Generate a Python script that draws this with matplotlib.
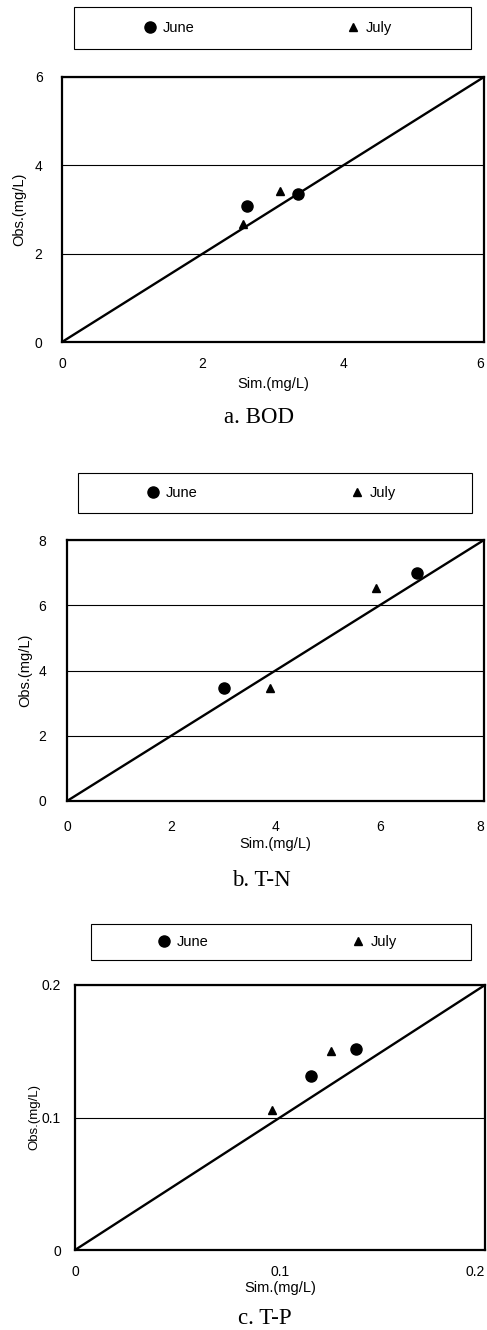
import numpy as np
import matplotlib.pyplot as plt
import matplotlib.lines as mlines
from matplotlib.patches import Rectangle

W, H = 487, 1330

# a. BOD
bod_june_sim = [2.63, 3.36]
bod_june_obs = [3.08, 3.35]
bod_july_sim = [2.57, 3.10]
bod_july_obs = [2.67, 3.42]
bod_ticks = [0, 2, 4, 6]
bod_labels = ['0', '2', '4', '6']

# b. T-N
tn_june_sim = [3.01, 6.71]
tn_june_obs = [3.46, 6.99]
tn_july_sim = [3.89, 5.93]
tn_july_obs = [3.46, 6.53]
tn_ticks = [0, 2, 4, 6, 8]
tn_labels = ['0', '2', '4', '6', '8']

# c. T-P
tp_june_sim = [0.115, 0.137]
tp_june_obs = [0.131, 0.152]
tp_july_sim = [0.096, 0.125]
tp_july_obs = [0.106, 0.150]
tp_ticks = [0, 0.1, 0.2]
tp_labels = ['0', '0.1', '0.2']

plt.rcParams['font.family'] = ['Liberation Sans', 'DejaVu Sans']

fig = plt.figure(figsize=(W / 100, H / 100), dpi=100)


def px_rect(x0, y0, x1, y1):
    # pixel box (top-left origin) -> figure fraction
    return [x0 / W, 1 - y1 / H, (x1 - x0) / W, (y1 - y0) / H]


def panel(box, ticks, labels, jx, jy, tx, ty, xpad, ypad, xlpad, ylpad, ylsize):
    ax = fig.add_axes(px_rect(*box))
    top = ticks[-1]
    ax.set_xlim(0, top)
    ax.set_ylim(0, top)
    ax.set_xticks(ticks)
    ax.set_yticks(ticks)
    ax.set_xticklabels(labels)
    ax.set_yticklabels(labels)
    ax.yaxis.grid(True, color='black', linewidth=0.8)
    ax.set_axisbelow(True)
    ax.plot([0, top], [0, top], color='black', linewidth=1.7)
    ax.plot(jx, jy, 'o', color='black', markersize=8)
    ax.plot(tx, ty, '^', color='black', markersize=6)
    for s in ax.spines.values():
        s.set_linewidth(1.6)
    ax.tick_params(axis='x', length=0, labelsize=10, pad=xpad)
    ax.tick_params(axis='y', length=0, labelsize=10, pad=ypad)
    # last x label sits on the right edge of the page
    ax.get_xticklabels()[-1].set_horizontalalignment('right')
    ax.set_xlabel('Sim.(mg/L)', fontsize=10.5, labelpad=xlpad)
    ax.set_ylabel('Obs.(mg/L)', fontsize=ylsize, labelpad=ylpad)
    return ax


def legend_box(x0, y0, x1, y1, june_x, july_x):
    fig.patches.append(Rectangle((x0 / W, 1 - y1 / H), (x1 - x0) / W, (y1 - y0) / H,
                                 transform=fig.transFigure, fill=False,
                                 edgecolor='black', linewidth=0.8))
    yc = 1 - (y0 + y1) / 2 / H
    fs = 10.5
    half = 0.5 * fs * 100 / 72
    june = mlines.Line2D([], [], marker='o', linestyle='', color='black', markersize=8)
    july = mlines.Line2D([], [], marker='^', linestyle='', color='black', markersize=6)
    for h, lab, mx in [(june, 'June', june_x), (july, 'July', july_x)]:
        fig.legend(handles=[h], labels=[lab], loc='center left',
                   bbox_to_anchor=((mx - half) / W, yc), frameon=False,
                   borderpad=0, borderaxespad=0, handlelength=1,
                   handletextpad=0.4, fontsize=fs)


def caption(text, xc, yc):
    fig.text(xc / W, 1 - yc / H, text, ha='center', va='center',
             fontsize=16.5, family=['Liberation Serif', 'DejaVu Serif'])


legend_box(74, 7, 471, 49, 150, 353)
panel((62, 77, 484, 342), bod_ticks, bod_labels,
      bod_june_sim, bod_june_obs, bod_july_sim, bod_july_obs, 11, 14, 4, 6, 10.5)
caption('a. BOD', 259, 417)

legend_box(78, 473, 472, 513, 153, 357)
panel((67, 540, 484, 801), tn_ticks, tn_labels,
      tn_june_sim, tn_june_obs, tn_july_sim, tn_july_obs, 13.5, 15, 2, 4, 10.5)
caption('b. T-N', 261, 880)

legend_box(91, 924, 471, 960, 164, 358)
panel((75, 985, 485, 1250), tp_ticks, tp_labels,
      tp_june_sim, tp_june_obs, tp_july_sim, tp_july_obs, 11, 10, 1, 1, 9.5)
caption('c. T-P', 265, 1318)

fig.savefig('out.png', dpi=100)
